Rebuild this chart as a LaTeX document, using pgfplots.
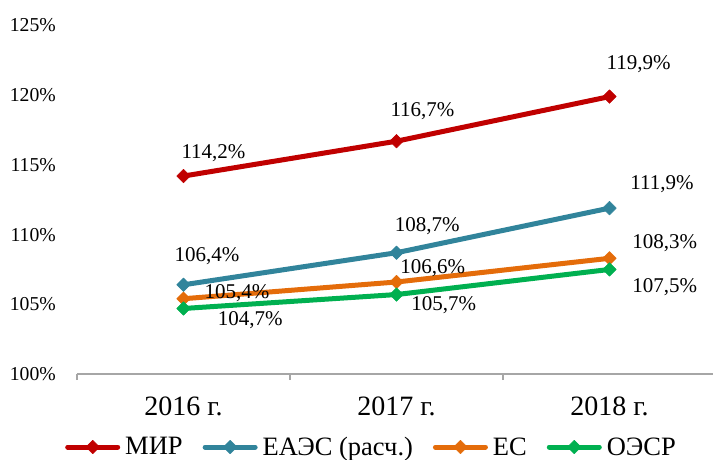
\documentclass[border=0pt]{standalone}
\usepackage{fontspec}
\setmainfont{Liberation Serif}
\usepackage{pgfplots}
\usepackage{pgfplotstable}
\pgfplotsset{compat=1.18}
\definecolor{cmir}{HTML}{C00000}
\definecolor{ceaes}{HTML}{31849B}
\definecolor{ces}{HTML}{E46C0A}
\definecolor{coecd}{HTML}{00B050}
\definecolor{caxis}{HTML}{A6A6A6}

\pgfplotstableread{
x y dx dy
0 114.2 30 23.4
1 116.7 26 30
2 119.9 29.2 32.3
}\mir
\pgfplotstableread{
x y dx dy
0 106.4 23.4 28.3
1 108.7 30.7 26.5
2 111.9 52.5 24.3
}\eaes
\pgfplotstableread{
x y dx dy
0 105.4 53.4 6
1 106.6 36.3 13.4
2 108.3 55.3 15
}\es
\pgfplotstableread{
x y dx dy
0 104.7 66.7 -11.6
1 105.7 47.3 -11
2 107.5 55.3 -17.3
}\oecd

\begin{document}
\begin{tikzpicture}
\useasboundingbox (-77pt,-85pt) rectangle (636pt,374pt);
\begin{axis}[
  at={(0pt,0pt)}, anchor=south west,
  scale only axis, width=639pt, height=348.5pt,
  xmin=-0.5, xmax=2.5, ymin=100, ymax=125,
  clip=false,
  axis x line*=bottom, axis y line*=left,
  x axis line style={draw=caxis, line width=1.5pt},
  y axis line style={draw=none},
  ytick={100,105,...,125},
  yticklabels={100\%,105\%,110\%,115\%,120\%,125\%},
  ytick style={draw=none},
  yticklabel style={font=\fontsize{19.7}{22}\selectfont, anchor=east, inner sep=0pt, xshift=-15pt},
  xtick={-0.5,0.5,1.5,2.5}, xticklabels={},
  xtick style={draw=caxis, line width=1.5pt},
  tick align=outside, major tick length=6pt,
  extra x ticks={0,1,2},
  extra x tick labels={2016 г.,2017 г.,2018 г.},
  extra x tick style={major tick length=0pt, tick style={draw=none},
     xticklabel style={font=\fontsize{28}{32}\selectfont, anchor=base, inner sep=0pt, yshift=-41pt}},
  point meta=y,
  /pgf/number format/assume math mode=true,
  nodes near coords={\pgfmathprintnumber[fixed,fixed zerofill,precision=1,use comma,assume math mode=true]{\pgfplotspointmeta}\%},
  visualization depends on={\thisrow{dx}\as\myDx},
  visualization depends on={\thisrow{dy}\as\myDy},
  nodes near coords style={font=\fontsize{21}{24}\selectfont, anchor=center, xshift=\myDx pt, yshift=\myDy pt, text=black, inner sep=0pt},
  legend columns=4,
  legend style={at={(-0.01878,-0.2095)}, anchor=west, draw=none, fill=none, inner sep=0pt,
     font=\fontsize{26.5}{30}\selectfont, nodes={inner sep=0pt},
     /tikz/every even column/.append style={column sep=20pt},
     /tikz/every odd column/.append style={column sep=5pt}},
  legend image code/.code={\draw[#1, mark repeat=2, mark phase=2] plot coordinates {(2.5pt,0pt) (27.5pt,0pt) (52.5pt,0pt)};},
  every axis plot/.append style={line width=5pt, line cap=round, line join=round, mark=square*, mark size=4.8pt, mark options={rotate=45, line width=0.5pt, solid}},
]
\addplot[color=cmir] table[x=x,y=y]{\mir};
\addlegendentry{МИР}
\addplot[color=ceaes] table[x=x,y=y]{\eaes};
\addlegendentry{ЕАЭС (расч.)}
\addplot[color=ces] table[x=x,y=y]{\es};
\addlegendentry{ЕС}
\addplot[color=coecd] table[x=x,y=y]{\oecd};
\addlegendentry{ОЭСР}
\end{axis}
\end{tikzpicture}
\end{document}
